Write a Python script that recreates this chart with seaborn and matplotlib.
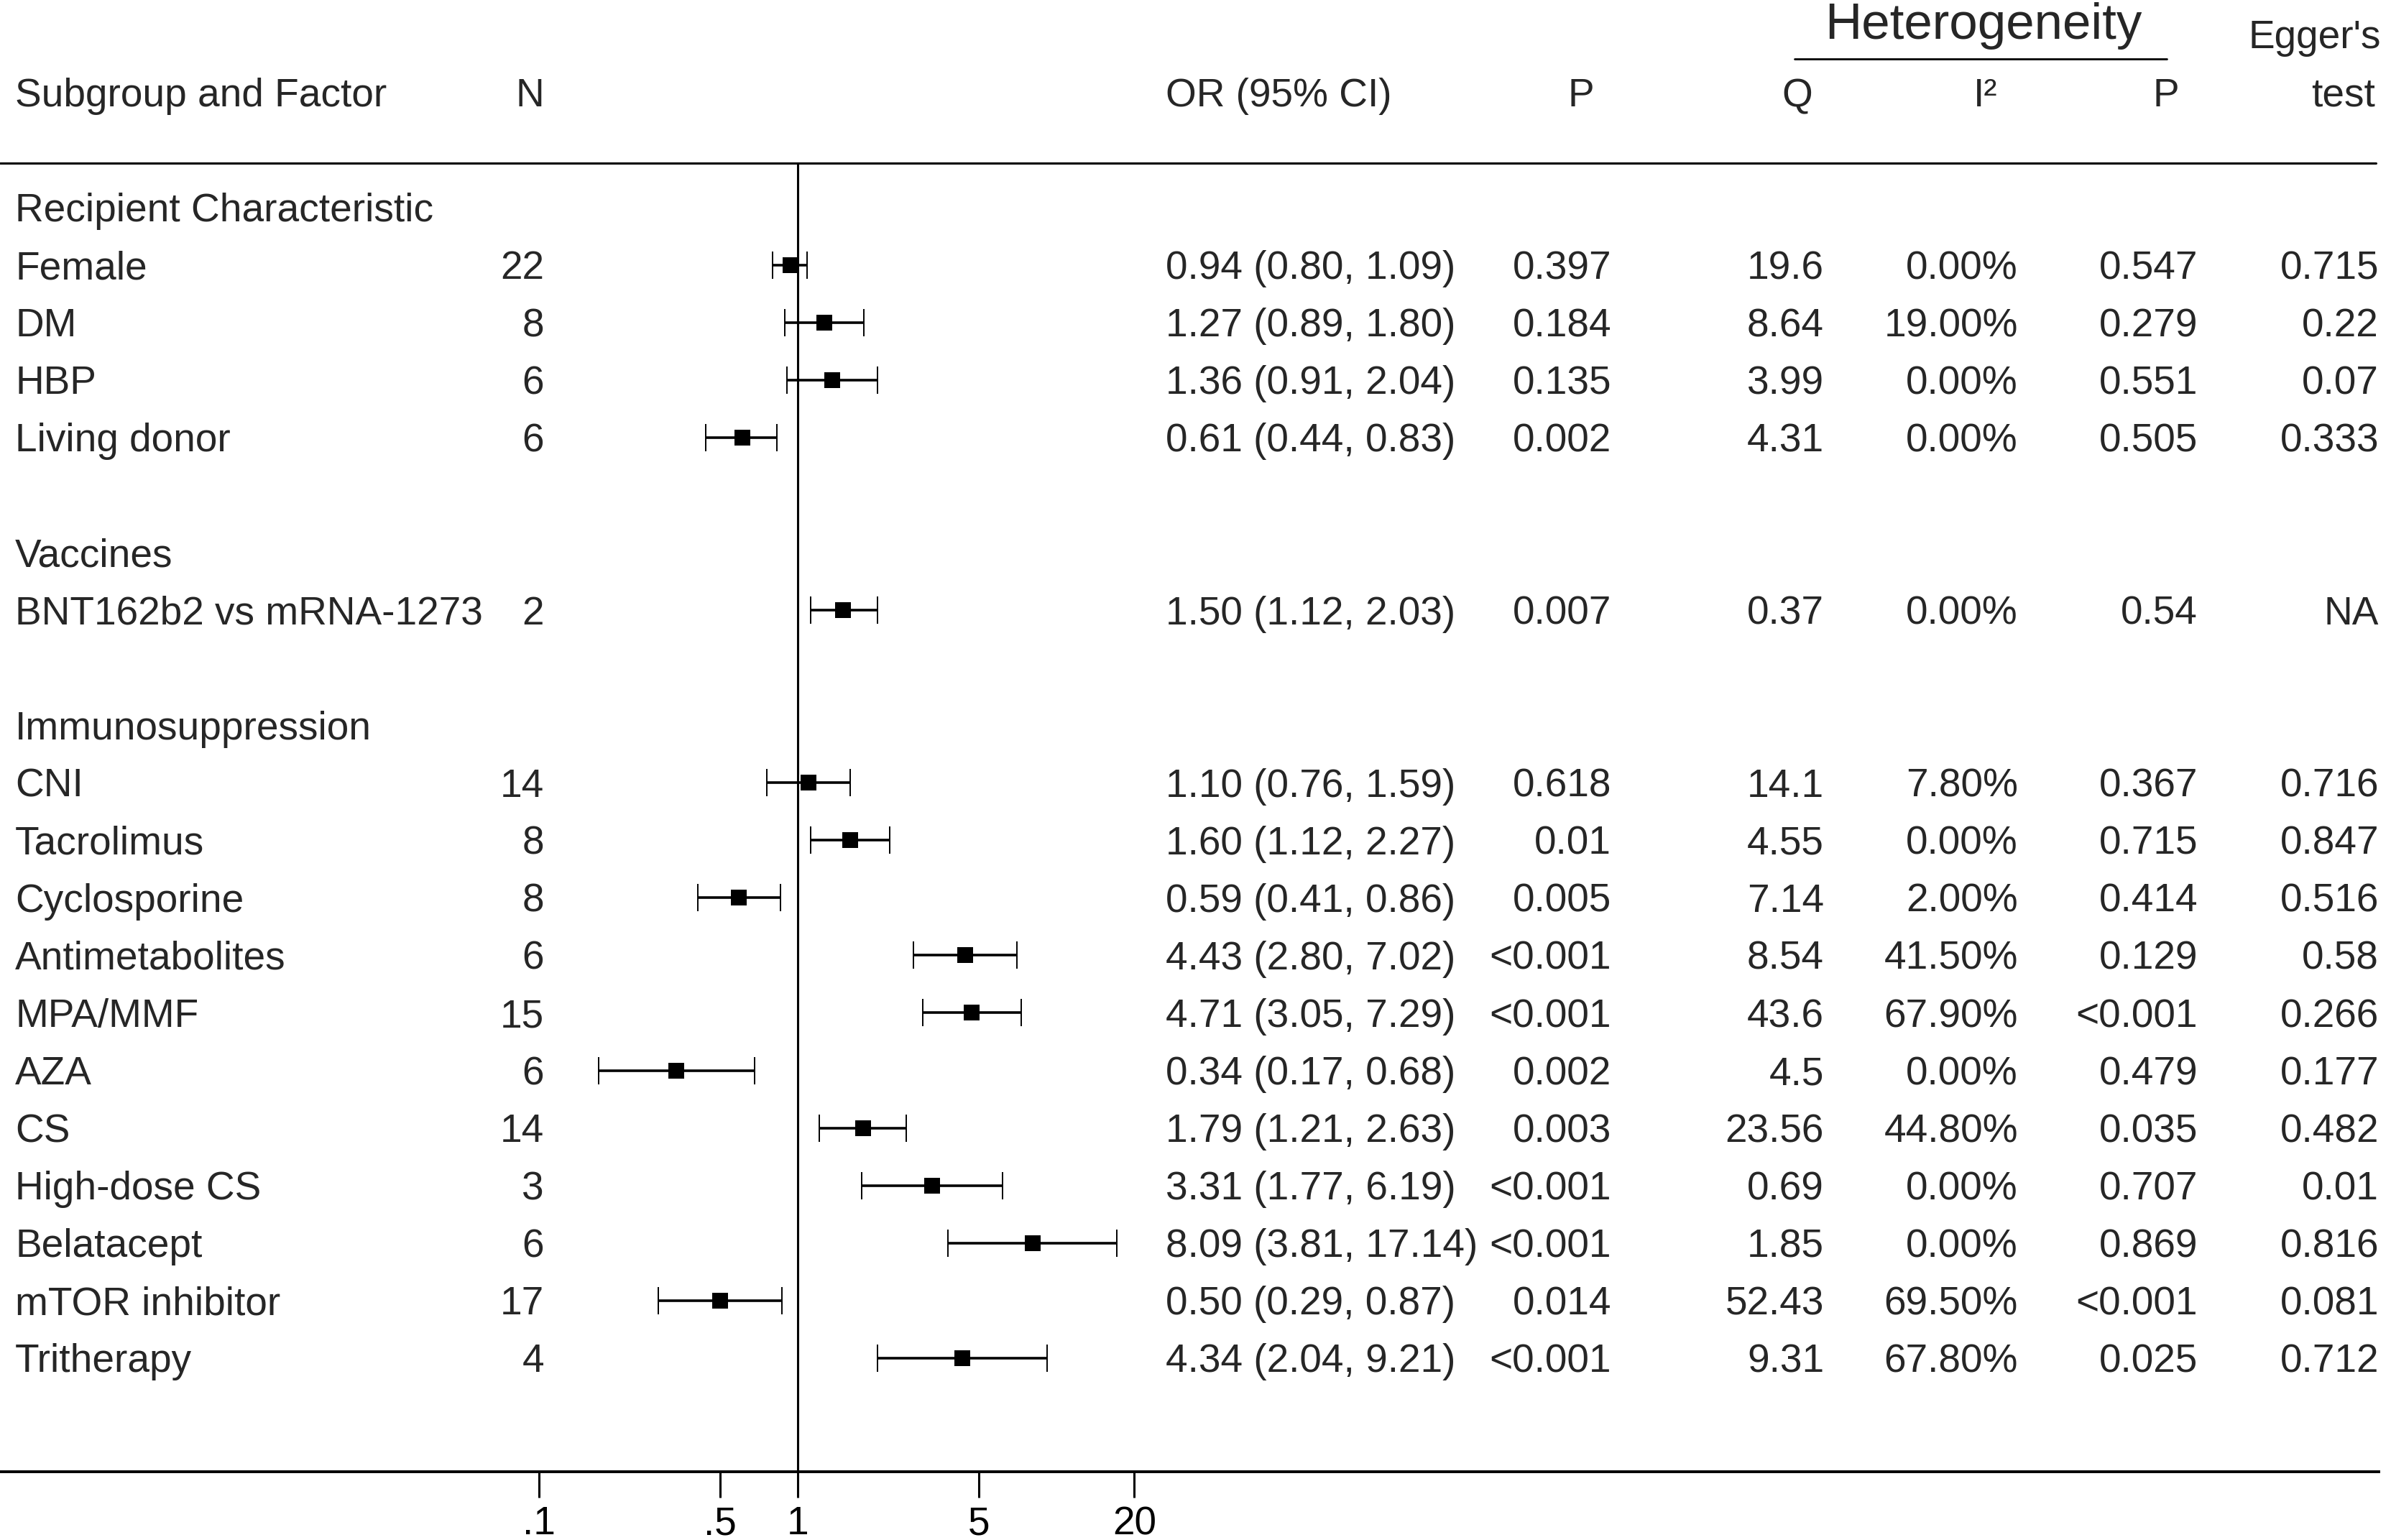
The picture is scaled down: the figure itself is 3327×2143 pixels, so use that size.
"""
Forest plot: odds ratios (95% CI) per subgroup factor,
with the result table (P, heterogeneity, Egger's test) drawn beside it.
"""
import pandas as pd
import seaborn as sns
import matplotlib.pyplot as plt
from matplotlib.ticker import NullLocator
from matplotlib.transforms import blended_transform_factory


"""
1. Data
"""
group_titles = ["Recipient Characteristic", "Vaccines", "Immunosuppression"]
group_sizes = [4, 1, 11]

factors = ["Female", "DM", "HBP", "Living donor",
           "BNT162b2 vs mRNA-1273",
           "CNI", "Tacrolimus", "Cyclosporine", "Antimetabolites", "MPA/MMF",
           "AZA", "CS", "High-dose CS", "Belatacept", "mTOR inhibitor",
           "Tritherapy"]
n_studies = [22, 8, 6, 6, 2, 14, 8, 8, 6, 15, 6, 14, 3, 6, 17, 4]
odds_ratio = [0.94, 1.27, 1.36, 0.61, 1.50, 1.10, 1.60, 0.59, 4.43, 4.71,
              0.34, 1.79, 3.31, 8.09, 0.50, 4.34]
ci_low = [0.80, 0.89, 0.91, 0.44, 1.12, 0.76, 1.12, 0.41, 2.80, 3.05,
          0.17, 1.21, 1.77, 3.81, 0.29, 2.04]
ci_high = [1.09, 1.80, 2.04, 0.83, 2.03, 1.59, 2.27, 0.86, 7.02, 7.29,
           0.68, 2.63, 6.19, 17.14, 0.87, 9.21]
p_value = ["0.397", "0.184", "0.135", "0.002", "0.007", "0.618", "0.01",
           "0.005", "<0.001", "<0.001", "0.002", "0.003", "<0.001", "<0.001",
           "0.014", "<0.001"]
het_q = ["19.6", "8.64", "3.99", "4.31", "0.37", "14.1", "4.55", "7.14",
         "8.54", "43.6", "4.5", "23.56", "0.69", "1.85", "52.43", "9.31"]
het_i2 = ["0.00%", "19.00%", "0.00%", "0.00%", "0.00%", "7.80%", "0.00%",
          "2.00%", "41.50%", "67.90%", "0.00%", "44.80%", "0.00%", "0.00%",
          "69.50%", "67.80%"]
het_p = ["0.547", "0.279", "0.551", "0.505", "0.54", "0.367", "0.715",
         "0.414", "0.129", "<0.001", "0.479", "0.035", "0.707", "0.869",
         "<0.001", "0.025"]
egger_p = ["0.715", "0.22", "0.07", "0.333", "NA", "0.716", "0.847", "0.516",
           "0.58", "0.266", "0.177", "0.482", "0.01", "0.816", "0.081",
           "0.712"]

tick_values = [0.1, 0.5, 1, 5, 20]
tick_labels = [".1", ".5", "1", "5", "20"]

# row index for every group title and factor (blank row between groups)
title_rows = []
factor_rows = []
row = 0
for size in group_sizes:
    title_rows.append(row)
    factor_rows.extend(range(row + 1, row + 1 + size))
    row += size + 2

df = pd.DataFrame({"factor": factors, "row": factor_rows,
                   "OR": odds_ratio, "lo": ci_low, "hi": ci_high})


"""
2. Layout (pixel based, matching a 3327 x 2143 canvas)
"""
W, H = 3327, 2143
AX_W, AX_B = 3310, 2048          # axes right edge / bottom line (pixels)
ROW0, ROWH = 288.6, 80.06        # pixel y of row 0 and row height
X_ONE, DECADE = 1110, 360        # pixel x of OR = 1 and pixels per decade


def row_of(ypix):
    return (ypix - ROW0) / ROWH


def fx(xpix):
    return xpix / AX_W


FS = 19.8
BASE = 0.245                      # text baseline below row centre

sns.set_style("white")
plt.rcParams["font.family"] = ["Liberation Sans", "DejaVu Sans"]

fig = plt.figure(figsize=(W / 200, H / 200), dpi=200)
ax = fig.add_axes([0, (H - AX_B) / H, AX_W / W, AX_B / H])
ax.set_xscale("log")
ax.set_xlim(10 ** (-X_ONE / DECADE), 10 ** ((AX_W - X_ONE) / DECADE))
ax.set_ylim(row_of(AX_B), row_of(0))

blend = blended_transform_factory(ax.transAxes, ax.transData)

"""
3. Forest plot
"""
ax.plot([1, 1], [row_of(227), row_of(AX_B)], color="black", lw=1.1,
        zorder=1)
ax.errorbar(df["OR"], df["row"],
            xerr=[df["OR"] - df["lo"], df["hi"] - df["OR"]],
            fmt="none", ecolor="black", elinewidth=1.3, capsize=7,
            capthick=0.7, zorder=2)
sns.scatterplot(data=df, x="OR", y="row", marker="s", s=58, color="black",
                linewidth=0, legend=False, ax=ax, zorder=3)

ax.set_xticks(tick_values)
ax.set_xticklabels(tick_labels)
ax.xaxis.set_minor_locator(NullLocator())
ax.tick_params(axis="x", direction="out", length=13, width=1.1, pad=4,
               labelsize=FS, colors="black", bottom=True)
ax.set_yticks([])
ax.set_xlabel("")
ax.set_ylabel("")
for side in ["top", "left", "right"]:
    ax.spines[side].set_visible(False)
ax.spines["bottom"].set_linewidth(1.4)
ax.spines["bottom"].set_color("black")

# top rule and heterogeneity underline
ax.plot([0, fx(3306)], [row_of(227)] * 2, color="black", lw=1.1,
        transform=blend, clip_on=False)
ax.plot([fx(2497), fx(3015)], [row_of(82)] * 2, color="black", lw=1.0,
        transform=blend, clip_on=False)


"""
4. Table text
"""
def put(xpix, r, s, ha="left", size=FS):
    ax.text(fx(xpix), r, s, ha=ha, va="baseline", fontsize=size,
            transform=blend, clip_on=False)


hdr = row_of(148)
put(21, hdr, "Subgroup and Factor")
put(757, hdr, "N", ha="right")
put(1622, hdr, "OR (95% CI)")
put(2200, hdr, "P", ha="center")
put(2501, hdr, "Q", ha="center")
put(2763, hdr, "I²", ha="center")
put(3014, hdr, "P", ha="center")
put(3313, row_of(67), "Egger's", ha="right")
put(3305, hdr, "test", ha="right")
put(2760, row_of(54), "Heterogeneity", ha="center", size=25.5)

for r, title in zip(title_rows, group_titles):
    put(21, r + BASE, title)

for i, r in enumerate(factor_rows):
    y = r + BASE
    put(21, y, factors[i])
    put(757, y, str(n_studies[i]), ha="right")
    put(1622, y, f"{odds_ratio[i]:.2f} ({ci_low[i]:.2f}, {ci_high[i]:.2f})")
    put(2242, y, p_value[i], ha="right")
    put(2538, y, het_q[i], ha="right")
    put(2808, y, het_i2[i], ha="right")
    put(3058, y, het_p[i], ha="right")
    put(3310, y, egger_p[i], ha="right")

fig.savefig("out.png", dpi=200)
